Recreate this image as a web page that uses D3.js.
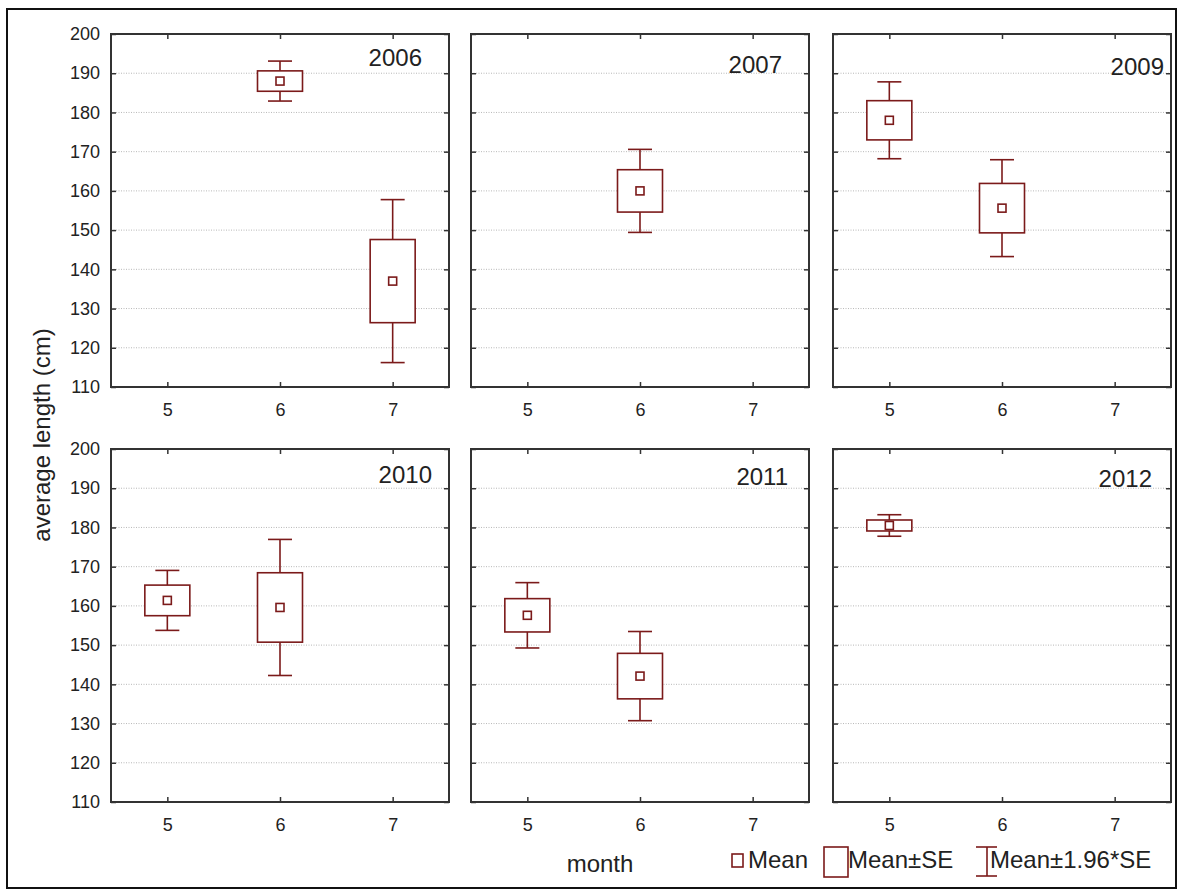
<!DOCTYPE html>
<html>
<head>
<meta charset="utf-8">
<script src="https://cdnjs.cloudflare.com/ajax/libs/d3/7.8.5/d3.min.js"></script>
<style>
  body { margin: 0; background: #fff; }
  svg { display: block; font-family: "Liberation Sans", Arial, sans-serif; }
  .tick line { stroke: #333; stroke-width: 1.5; }
</style>
</head>
<body>
<div id="chart"></div>
<script>
// data
const years = ['2006', '2007', '2009', '2010', '2011', '2012'];
const months = [5, 6, 7];
const yTicks = [110, 120, 130, 140, 150, 160, 170, 180, 190, 200];
// mean length per panel and month (null = no sample)
const mean2006 = [null, 188.0, 137.0];
const mean2007 = [null, 160.0, null];
const mean2009 = [178.0, 155.6, null];
const mean2010 = [161.4, 159.6, null];
const mean2011 = [157.6, 142.1, null];
const mean2012 = [180.5, null, null];
// standard error per panel and month
const se2006 = [null, 2.6, 10.6];
const se2007 = [null, 5.4, null];
const se2009 = [5.0, 6.3, null];
const se2010 = [3.9, 8.85, null];
const se2011 = [4.25, 5.8, null];
const se2012 = [1.4, null, null];

const means = [mean2006, mean2007, mean2009, mean2010, mean2011, mean2012];
const ses = [se2006, se2007, se2009, se2010, se2011, se2012];

// layout
const width = 1182, height = 890;
const colX = [111, 471, 833];
const rowY = [34, 449];
const pw = 338, ph = 353;
const labelDx = [-27, -27, -7, -17, -21, -19];
const labelDy = [32, 39, 41, 34, 36, 38];
const red = '#7b1a1a';
const font = '"Liberation Sans", Arial, sans-serif';

const svg = d3.select('#chart')
  .append('svg')
  .attr('width', width)
  .attr('height', height);

svg.append('rect')
  .attr('x', 7).attr('y', 9)
  .attr('width', 1169).attr('height', 879)
  .attr('fill', 'none')
  .attr('stroke', '#111')
  .attr('stroke-width', 2);

const x = d3.scaleLinear().domain([4.5, 7.5]).range([0, pw]);
const y = d3.scaleLinear().domain([110, 200]).range([ph, 0]);

years.forEach((yr, p) => {
  const col = p % 3, row = Math.floor(p / 3);
  const g = svg.append('g')
    .attr('transform', 'translate(' + colX[col] + ',' + rowY[row] + ')');

  // dotted grid
  g.selectAll('.grid')
    .data(yTicks.slice(1, -1))
    .enter()
    .append('line')
    .attr('x1', 0).attr('x2', pw)
    .attr('y1', d => y(d)).attr('y2', d => y(d))
    .attr('stroke', '#b8b8b8')
    .attr('stroke-width', 1)
    .attr('stroke-dasharray', '1,1.5');

  // axes, ticks pointing inward
  const left = g.append('g')
    .call(d3.axisLeft(y).tickValues(yTicks).tickSize(-5).tickPadding(11)
      .tickFormat(col === 0 ? d3.format('d') : ''));
  const right = g.append('g')
    .attr('transform', 'translate(' + pw + ',0)')
    .call(d3.axisRight(y).tickValues(yTicks).tickSize(-5).tickFormat(''));
  const top = g.append('g')
    .call(d3.axisTop(x).tickValues(months).tickSize(-5).tickFormat(''));
  const bottom = g.append('g')
    .attr('transform', 'translate(0,' + ph + ')')
    .call(d3.axisBottom(x).tickValues(months).tickSize(-5).tickPadding(16)
      .tickFormat(d3.format('d')));
  [left, right, top, bottom].forEach(a => {
    a.select('.domain').remove();
    a.attr('font-size', 18).attr('font-family', font);
    a.selectAll('text').attr('fill', '#222');
  });

  g.append('rect')
    .attr('width', pw).attr('height', ph)
    .attr('fill', 'none')
    .attr('stroke', '#333')
    .attr('stroke-width', 2);

  g.append('text')
    .attr('x', pw + labelDx[p])
    .attr('y', labelDy[p])
    .attr('text-anchor', 'end')
    .attr('font-size', 24)
    .attr('fill', '#222')
    .text(yr);

  const pts = months
    .map((m, i) => ({ m: m, mean: means[p][i], se: ses[p][i] }))
    .filter(d => d.mean !== null);

  const box = g.selectAll('.box')
    .data(pts)
    .enter()
    .append('g')
    .attr('fill', 'none')
    .attr('stroke', red)
    .attr('stroke-width', 1.6);

  // whisker lines mean ± 1.96*SE
  box.append('line')
    .attr('x1', d => x(d.m)).attr('x2', d => x(d.m))
    .attr('y1', d => y(d.mean + 1.96 * d.se))
    .attr('y2', d => y(d.mean - 1.96 * d.se));
  box.append('line')
    .attr('x1', d => x(d.m) - 12).attr('x2', d => x(d.m) + 12)
    .attr('y1', d => y(d.mean + 1.96 * d.se))
    .attr('y2', d => y(d.mean + 1.96 * d.se));
  box.append('line')
    .attr('x1', d => x(d.m) - 12).attr('x2', d => x(d.m) + 12)
    .attr('y1', d => y(d.mean - 1.96 * d.se))
    .attr('y2', d => y(d.mean - 1.96 * d.se));
  // box mean ± SE
  box.append('rect')
    .attr('x', d => x(d.m) - 22.5)
    .attr('width', 45)
    .attr('y', d => y(d.mean + d.se))
    .attr('height', d => y(d.mean - d.se) - y(d.mean + d.se))
    .attr('fill', '#fff');
  // mean marker
  box.append('rect')
    .attr('x', d => x(d.m) - 4)
    .attr('y', d => y(d.mean) - 4)
    .attr('width', 8).attr('height', 8)
    .attr('fill', '#fff');
});

// axis titles
svg.append('text')
  .attr('transform', 'translate(50,435) rotate(-90)')
  .attr('text-anchor', 'middle')
  .attr('font-size', 24)
  .attr('fill', '#222')
  .text('average length (cm)');

svg.append('text')
  .attr('x', 600).attr('y', 872)
  .attr('text-anchor', 'middle')
  .attr('font-size', 24)
  .attr('fill', '#222')
  .text('month');

// legend
const legend = svg.append('g').attr('fill', 'none').attr('stroke', red).attr('stroke-width', 1.6);
legend.append('rect').attr('x', 732).attr('y', 854).attr('width', 11).attr('height', 13);
legend.append('rect').attr('x', 824).attr('y', 847).attr('width', 24).attr('height', 30);
legend.append('line').attr('x1', 987).attr('x2', 987).attr('y1', 847).attr('y2', 876);
legend.append('line').attr('x1', 976).attr('x2', 997).attr('y1', 847).attr('y2', 847);
legend.append('line').attr('x1', 976).attr('x2', 997).attr('y1', 876).attr('y2', 876);

const legendText = [['Mean', 748], ['Mean\u00b1SE', 848], ['Mean\u00b11.96*SE', 990]];
svg.selectAll('.legtext')
  .data(legendText)
  .enter()
  .append('text')
  .attr('x', d => d[1]).attr('y', 868)
  .attr('font-size', 24)
  .attr('fill', '#222')
  .text(d => d[0]);
</script>
</body>
</html>
